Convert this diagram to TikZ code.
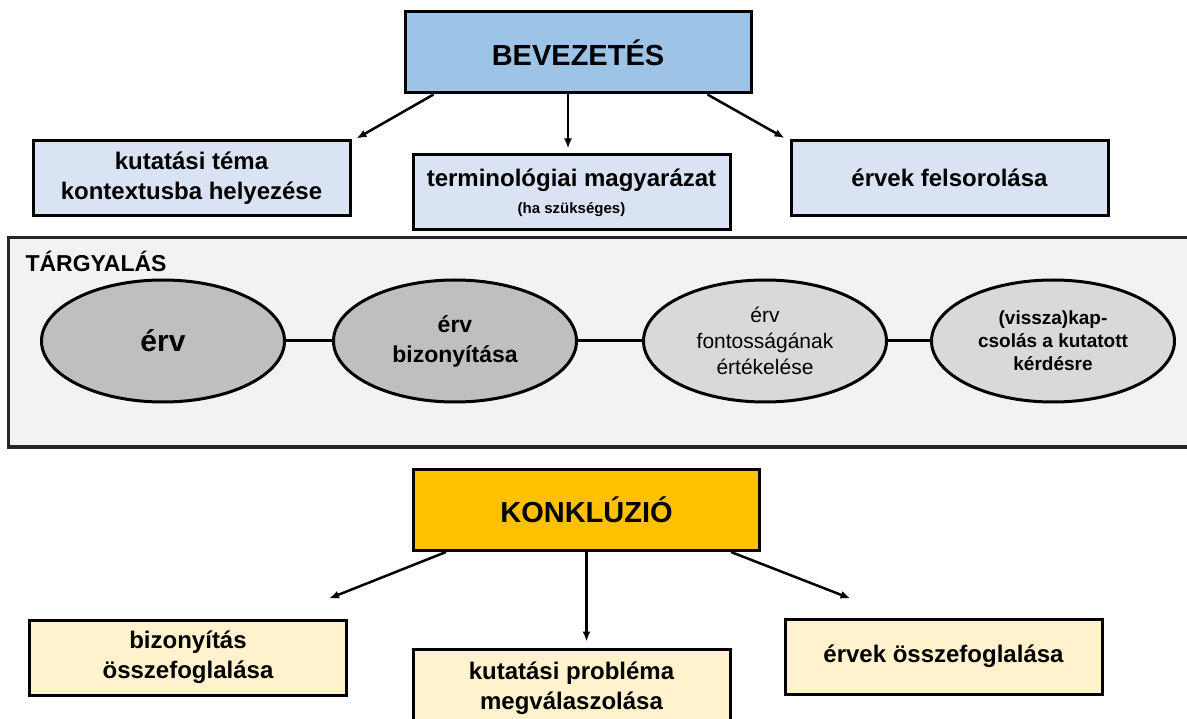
\documentclass[tikz,border=0pt]{standalone}
\usepackage{fontspec}
\setmainfont{Liberation Sans}
\usetikzlibrary{arrows.meta, shapes.geometric}
\definecolor{fejkek}{HTML}{9DC3E6}
\definecolor{halvanykek}{HTML}{DAE3F3}
\definecolor{halvanyszurke}{HTML}{F2F2F2}
\definecolor{sotetszurke}{HTML}{BFBFBF}
\definecolor{kozepszurke}{HTML}{D9D9D9}
\definecolor{sarga}{HTML}{FFC000}
\definecolor{krem}{HTML}{FFF2CC}
\newcommand{\betu}[2]{\fontsize{#1}{#2}\selectfont}
\tikzset{
  doboz/.style = {draw, line width=3pt, minimum width=317pt, minimum height=75pt,
                  inner sep=0pt, align=center, font=\bfseries\betu{24}{30}},
  fejdoboz/.style = {doboz, minimum width=346pt, minimum height=81pt, font=\bfseries\betu{29}{34}},
  ellip/.style = {ellipse, draw, line width=3pt, minimum width=243pt, minimum height=122pt,
                  inner sep=0pt, align=center},
  nyil/.style = {line width=2.5pt, -{Latex[length=10pt,width=8pt]}},
  osszekoto/.style = {line width=3pt}
}
\begin{document}
\begin{tikzpicture}[x=1pt, y=-1pt]
    \useasboundingbox (0,0) rectangle (1187,719);
    % Bevezetés
    \node[fejdoboz, fill=fejkek] (bev) at (578,52.5) {BEVEZETÉS};
    \node[doboz, fill=halvanykek] (ctx) at (191.5,178.5) {kutatási téma\\kontextusba helyezése};
    \node[doboz, fill=halvanykek] (term) at (571.5,192.5)
        {terminológiai magyarázat\\[-3pt]{\betu{15}{17}(ha szükséges)}};
    \node[doboz, fill=halvanykek] (list) at (949.5,178) {érvek felsorolása};
    \draw[nyil] ([xshift=30pt]bev.south west) -- ([xshift=5pt,yshift=1pt]ctx.north east);
    \draw[nyil] ([xshift=-10pt]bev.south) -- ([xshift=-3.5pt,yshift=5pt]term.north);
    \draw[nyil] ([xshift=-45pt]bev.south east) -- ([xshift=-5pt,yshift=1pt]list.north west);
    % Tárgyalás
    \node[draw, line width=3pt, draw=black!85, fill=halvanyszurke, minimum width=1184pt,
          minimum height=209pt, inner sep=0pt] (disc) at (600,342.5) {};
    \node[anchor=west, font=\bfseries\betu{23}{27}] (disclabel) at (22,261) {TÁRGYALÁS};
    \node[ellip, fill=sotetszurke, font=\bfseries\betu{30}{34}] (arg1) at (163,341) {érv};
    \node[ellip, fill=sotetszurke, font=\bfseries\betu{23}{30}] (arg2) at (455,341) {érv\\bizonyítása};
    \node[ellip, fill=kozepszurke, font=\betu{21}{26}] (arg3) at (765,341)
        {érv\\fontosságának\\értékelése};
    \node[ellip, fill=kozepszurke, font=\bfseries\betu{19}{23}] (arg4) at (1053,341)
        {(vissza)kap-\\csolás a kutatott\\kérdésre};
    \draw[osszekoto] (arg1) -- (arg2);
    \draw[osszekoto] (arg2) -- (arg3);
    \draw[osszekoto] (arg3) -- (arg4);
    % Konklúzió
    \node[fejdoboz, fill=sarga] (konk) at (586.5,510) {KONKLÚZIÓ};
    \node[doboz, fill=krem] (sum1) at (188,657.5) {bizonyítás\\összefoglalása};
    \node[doboz, fill=krem, minimum height=78pt] (sum2) at (571.5,688) {kutatási probléma\\megválaszolása};
    \node[doboz, fill=krem] (sum3) at (943.5,656.5) {érvek összefoglalása};
    \draw[nyil] ([xshift=34pt]konk.south west) -- ([xshift=-19pt,yshift=20pt]sum1.north east);
    \draw[nyil] (konk.south) -- ([xshift=15pt,yshift=6pt]sum2.north);
    \draw[nyil] ([xshift=-30pt]konk.south east) -- ([xshift=67pt,yshift=19pt]sum3.north west);
\end{tikzpicture}
\end{document}
